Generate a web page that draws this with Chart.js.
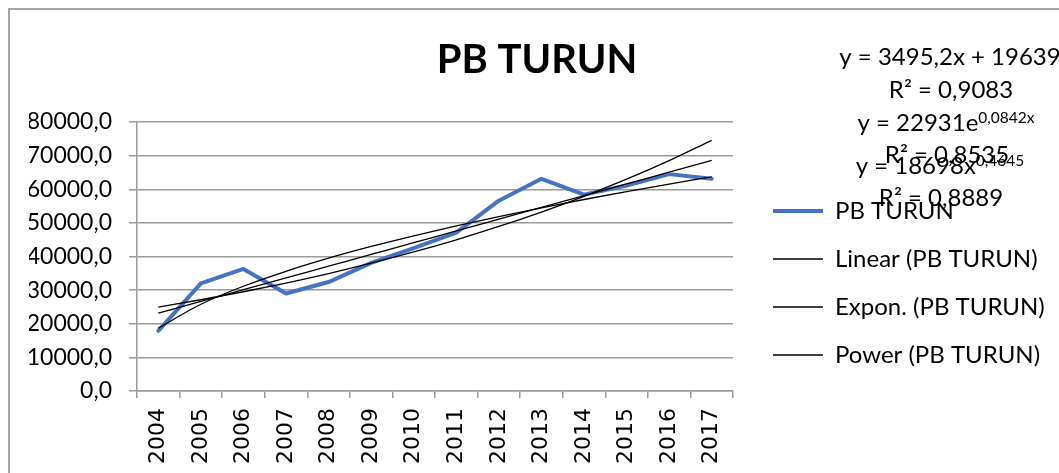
<!DOCTYPE html>
<html>
<head>
<meta charset="utf-8">
<script src="https://cdn.jsdelivr.net/npm/chart.js@4.4.1/dist/chart.umd.min.js"></script>
<style>
html,body{margin:0;padding:0;background:#fff;}
canvas{display:block;}
</style>
</head>
<body>
<canvas id="c" width="1059" height="473"></canvas>
<script>
// ---- data ----
const categories = ['2004','2005','2006','2007','2008','2009','2010','2011','2012','2013','2014','2015','2016','2017'];
const pbTurun = [17900, 32000, 36300, 29000, 32400, 38100, 42500, 47100, 56600, 63100, 58400, 61100, 64500, 63100];
const linearTrend = [23134, 26629, 30125, 33620, 37115, 40610, 44105, 47601, 51096, 54591, 58086, 61581, 65077, 68572];
const expTrend = [24945, 27137, 29520, 32114, 34935, 38004, 41343, 44974, 48925, 53223, 57899, 62985, 68518, 74537];
const powerTrend = [18698, 25800, 31147, 35600, 39488, 42979, 46168, 49122, 51884, 54488, 56954, 59303, 61547, 63706];
const seriesLabels = ['PB TURUN', 'Linear (PB TURUN)', 'Expon. (PB TURUN)', 'Power (PB TURUN)'];
const chartTitle = 'PB TURUN';
const equationTexts = ['y = 3495,2x + 19639', 'R² = 0,9083', 'y = 22931e', 'R² = 0,8535', 'y = 18698x', 'R² = 0,8889'];
const equationSups  = ['', '', '0,0842x', '', '0,4645', ''];

const FONT = 'Lato, Carlito, "Open Sans", sans-serif';

const framePlugin = {
  id: 'frame',
  beforeDraw(chart) {
    const c = chart.ctx;
    c.save();
    c.strokeStyle = '#a6a6a6';
    c.lineWidth = 2;
    c.strokeRect(9, 9, 1200, 700);
    c.restore();
  }
};

const equationPlugin = {
  id: 'equations',
  afterDraw(chart) {
    const c = chart.ctx;
    const pos = [[950, 65], [951, 98], [946, 131], [947, 163], [940, 174], [941, 206]];
    c.save();
    c.fillStyle = '#000';
    c.textBaseline = 'alphabetic';
    c.textAlign = 'left';
    equationTexts.forEach((t, i) => {
      c.font = '24px ' + FONT;
      const w1 = c.measureText(t).width;
      c.font = '15.5px ' + FONT;
      const w2 = equationSups[i] ? c.measureText(equationSups[i]).width : 0;
      const x0 = pos[i][0] - (w1 + w2) / 2;
      c.font = '24px ' + FONT;
      c.fillText(t, x0, pos[i][1]);
      if (equationSups[i]) {
        c.font = '15.5px ' + FONT;
        c.fillText(equationSups[i], x0 + w1, pos[i][1] - 8.5);
      }
    });
    c.restore();
  }
};

const trendStyle = {
  borderColor: '#000',
  backgroundColor: '#000',
  borderWidth: 1.3,
  pointRadius: 0,
  pointHoverRadius: 0,
  cubicInterpolationMode: 'monotone',
  fill: false,
  order: 0
};

const chart = new Chart(document.getElementById('c'), {
  type: 'line',
  data: {
    labels: categories,
    datasets: [
      { label: seriesLabels[0], data: pbTurun, borderColor: '#4472C4', backgroundColor: '#4472C4',
        borderWidth: 4, pointRadius: 0, pointHoverRadius: 0, tension: 0, fill: false,
        borderJoinStyle: 'round', borderCapStyle: 'round', order: 1 },
      Object.assign({ label: seriesLabels[1], data: linearTrend }, trendStyle),
      Object.assign({ label: seriesLabels[2], data: expTrend }, trendStyle),
      Object.assign({ label: seriesLabels[3], data: powerTrend }, trendStyle)
    ]
  },
  options: {
    responsive: false,
    devicePixelRatio: 1,
    animation: false,
    events: [],
    layout: { padding: { left: 29, right: 14, top: 0, bottom: 0 } },
    plugins: {
      tooltip: { enabled: false },
      title: {
        display: true,
        text: chartTitle,
        color: '#000',
        font: { family: FONT, size: 40, weight: 'bold', lineHeight: 1.2 },
        padding: { top: 36, bottom: 38 }
      },
      legend: {
        display: true,
        position: 'right',
        align: 'end',
        fullSize: false,
        maxWidth: 296,
        labels: {
          color: '#000',
          font: { family: FONT, size: 24 },
          padding: 24,
          boxWidth: 50,
          usePointStyle: true,
          pointStyleWidth: 50,
          generateLabels(ch) {
            return ch.data.datasets.map((ds, i) => ({
              text: ds.label,
              strokeStyle: ds.borderColor,
              fillStyle: ds.borderColor,
              lineWidth: ds.borderWidth,
              pointStyle: 'line',
              lineCap: 'butt',
              hidden: false,
              datasetIndex: i,
              fontColor: '#000'
            }));
          }
        }
      }
    },
    scales: {
      x: {
        type: 'category',
        offset: true,
        grid: { display: true, drawOnChartArea: false, drawTicks: true, tickLength: 7, color: '#9a9a9a', lineWidth: 1.5, offset: true },
        border: { display: true, color: '#9a9a9a', width: 1.5 },
        ticks: { color: '#000', font: { family: '"DejaVu Sans", Verdana, sans-serif', size: 22 }, minRotation: 90, maxRotation: 90, padding: 10, autoSkip: false },
        afterFit(s) { s.height = 82; }
      },
      y: {
        type: 'linear',
        position: 'left',
        min: 0,
        max: 80000,
        grid: { display: true, drawTicks: true, tickLength: 8, color: '#9a9a9a', lineWidth: 1.5 },
        border: { display: true, color: '#9a9a9a', width: 1.5 },
        ticks: {
          stepSize: 10000,
          color: '#000',
          padding: 17,
          font: { family: FONT, size: 23 },
          callback: (v) => Number(v).toFixed(1).replace('.', ',')
        },
        afterFit(s) { s.width = 108; }
      },
      gap: {
        type: 'linear',
        position: 'right',
        display: true,
        grid: { display: false, drawTicks: false },
        border: { display: false },
        ticks: { display: false },
        afterFit(s) { s.width = 16; }
      }
    }
  },
  plugins: [framePlugin, equationPlugin]
});

if (document.fonts && document.fonts.load) {
  Promise.all([document.fonts.load('24px Lato'), document.fonts.load('bold 40px Lato'), document.fonts.load('22px "DejaVu Sans"')])
    .then(() => chart.update('none')).catch(() => {});
}
</script>
</body>
</html>
